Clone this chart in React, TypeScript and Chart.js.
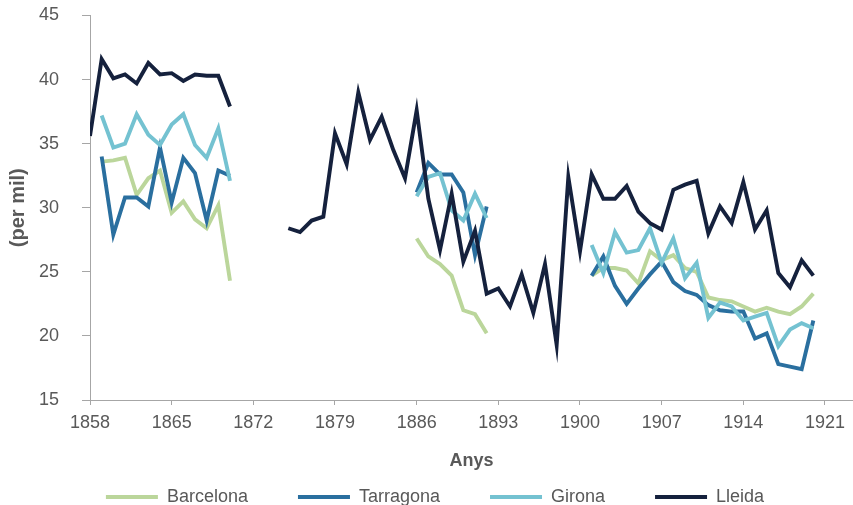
import React, { useEffect, useRef } from 'react';
import { Chart, registerables } from 'chart.js';

Chart.register(...registerables);

const YEARS = [
  1858, 1859, 1860, 1861, 1862, 1863, 1864, 1865, 1866, 1867, 1868, 1869, 1870,
  1871, 1872, 1873, 1874, 1875, 1876, 1877, 1878, 1879, 1880, 1881, 1882, 1883,
  1884, 1885, 1886, 1887, 1888, 1889, 1890, 1891, 1892, 1893, 1894, 1895, 1896,
  1897, 1898, 1899, 1900, 1901, 1902, 1903, 1904, 1905, 1906, 1907, 1908, 1909,
  1910, 1911, 1912, 1913, 1914, 1915, 1916, 1917, 1918, 1919, 1920,
];

const BARCELONA = [
  null, 33.6, 33.7, 33.9, 31.0, 32.3, 32.9, 29.6, 30.5, 29.1, 28.4, 30.2, 24.3,
  null, null, null, null, null, null, null, null, null, null, null, null, null,
  null, null, 27.6, 26.2, 25.6, 24.7, 22.0, 21.7, 20.2, null, null, null, null,
  null, null, null, null, 24.7, 25.3, 25.3, 25.1, 24.1, 26.6, 25.9, 26.3, 25.3,
  25.0, 23.0, 22.8, 22.7, 22.3, 21.9, 22.2, 21.9, 21.7, 22.3, 23.3,
];

const TARRAGONA = [
  null, 34.0, 27.9, 30.8, 30.8, 30.1, 34.7, 30.4, 33.9, 32.7, 29.0, 32.9, 32.5,
  null, null, null, null, null, null, null, null, null, null, null, null, null,
  null, null, 31.2, 33.5, 32.6, 32.6, 31.2, 26.3, 30.1, null, null, null, null,
  null, null, null, null, 24.7, 26.2, 23.9, 22.5, 23.7, 24.8, 25.8, 24.2, 23.5,
  23.2, 22.4, 22.0, 21.9, 21.9, 19.8, 20.2, 17.8, 17.6, 17.4, 21.2,
];

const GIRONA = [
  null, 37.2, 34.7, 35.0, 37.3, 35.7, 34.9, 36.5, 37.3, 34.9, 33.9, 36.2, 32.1,
  null, null, null, null, null, null, null, null, null, null, null, null, null,
  null, null, 30.9, 32.4, 32.7, 29.8, 29.0, 31.1, 29.2, null, null, null, null,
  null, null, null, null, 27.1, 24.9, 28.1, 26.5, 26.7, 28.4, 25.7, 27.6, 24.5,
  25.7, 21.4, 22.6, 22.3, 21.2, 21.5, 21.8, 19.2, 20.5, 21.0, 20.6,
];

const LLEIDA = [
  35.6, 41.6, 40.1, 40.4, 39.7, 41.3, 40.4, 40.5, 39.9, 40.4, 40.3, 40.3, 37.9,
  null, null, null, null, 28.4, 28.1, 29.0, 29.3, 35.8, 33.4, 39.0, 35.3, 37.1,
  34.5, 32.3, 37.6, 30.7, 26.7, 31.1, 25.8, 28.2, 23.3, 23.7, 22.3, 24.8, 21.8,
  25.6, 19.3, 32.4, 26.6, 32.6, 30.7, 30.7, 31.7, 29.7, 28.8, 28.3, 31.4, 31.8,
  32.1, 28.0, 30.1, 28.8, 32.0, 28.3, 29.8, 24.9, 23.8, 25.9, 24.7,
];

const SERIES_NAMES = ['Barcelona', 'Tarragona', 'Girona', 'Lleida'];
const SERIES_COLORS = ['#BBD69B', '#2A6F9F', '#74C2D1', '#15213D'];
const X_TICKS = [1858, 1865, 1872, 1879, 1886, 1893, 1900, 1907, 1914, 1921];
const X_MIN = 1858;
const X_MAX = 1923.4;
const Y_MIN = 15;
const Y_MAX = 45;
const Y_STEP = 5;

const TEXT = '#595959';
const AXIS = '#A6A6A6';
const FONT = "'Liberation Sans', Arial, Helvetica, sans-serif";

export default function App() {
  const ref = useRef<HTMLCanvasElement>(null);

  useEffect(() => {
    if (!ref.current) return;
    const all = [BARCELONA, TARRAGONA, GIRONA, LLEIDA];
    const datasets = all.map((vals, i) => ({
      label: SERIES_NAMES[i],
      data: YEARS.map((x, j) => ({ x, y: vals[j] })),
      borderColor: SERIES_COLORS[i],
      backgroundColor: SERIES_COLORS[i],
      borderWidth: 3.9,
      pointRadius: 0,
      pointHoverRadius: 0,
      tension: 0,
      spanGaps: false,
      order: all.length - i,
    }));

    const chart = new Chart(ref.current, {
      type: 'line',
      data: { datasets },
      options: {
        animation: false,
        responsive: true,
        maintainAspectRatio: false,
        layout: { padding: { top: 15.5, left: 17, right: 0, bottom: 0 } },
        font: { family: FONT },
        plugins: {
          tooltip: { enabled: false },
          title: { display: false },
          legend: {
            display: true,
            position: 'bottom',
            align: 'center',
            labels: {
              boxWidth: 52,
              boxHeight: 4,
              padding: 50,
              color: TEXT,
              font: { family: FONT, size: 18 },
              generateLabels: (c: any) => {
                const items = Chart.defaults.plugins.legend.labels.generateLabels(c);
                return items
                  .map((it: any) => ({ ...it, lineWidth: 0, fillStyle: it.strokeStyle }))
                  .sort((a: any, b: any) => a.datasetIndex - b.datasetIndex);
              },
            },
          },
        },
        scales: {
          x: {
            type: 'linear',
            min: X_MIN,
            max: X_MAX,
            afterBuildTicks: (scale: any) => {
              scale.ticks = X_TICKS.map((v) => ({ value: v }));
            },
            ticks: {
              autoSkip: false,
              maxRotation: 0,
              padding: 7,
              color: TEXT,
              font: { family: FONT, size: 18 },
              callback: (v: any) => String(v),
            },
            grid: { drawOnChartArea: false, drawTicks: true, tickLength: 5, color: AXIS },
            border: { display: true, color: AXIS, width: 1 },
            title: {
              display: true,
              text: 'Anys',
              color: TEXT,
              font: { family: FONT, size: 18, weight: 'bold' },
              padding: { top: 9.6, bottom: -33.8 },
            },
          },
          y: {
            type: 'linear',
            min: Y_MIN,
            max: Y_MAX,
            afterFit: (scale: any) => {
              scale.width = 73;
              scale.paddingTop = 0;
              scale.paddingBottom = 0;
            },
            ticks: {
              stepSize: Y_STEP,
              padding: 23,
              color: TEXT,
              font: { family: FONT, size: 18 },
            },
            grid: { drawOnChartArea: false, drawTicks: true, tickLength: 8, color: AXIS },
            border: { display: true, color: AXIS, width: 1 },
            title: {
              display: true,
              text: '(per mil)',
              color: TEXT,
              font: { family: FONT, size: 20, weight: 'bold' },
              padding: { top: -10.5, bottom: 0 },
            },
          },
        },
      },
    } as any);

    return () => chart.destroy();
  }, []);

  return (
    <div
      style={{
        position: 'fixed',
        left: 0,
        top: 0,
        width: 853,
        height: 505,
        overflow: 'hidden',
        background: '#ffffff',
      }}
    >
      <div style={{ position: 'relative', width: 853, height: 516 }}>
        <canvas ref={ref} />
      </div>
    </div>
  );
}
